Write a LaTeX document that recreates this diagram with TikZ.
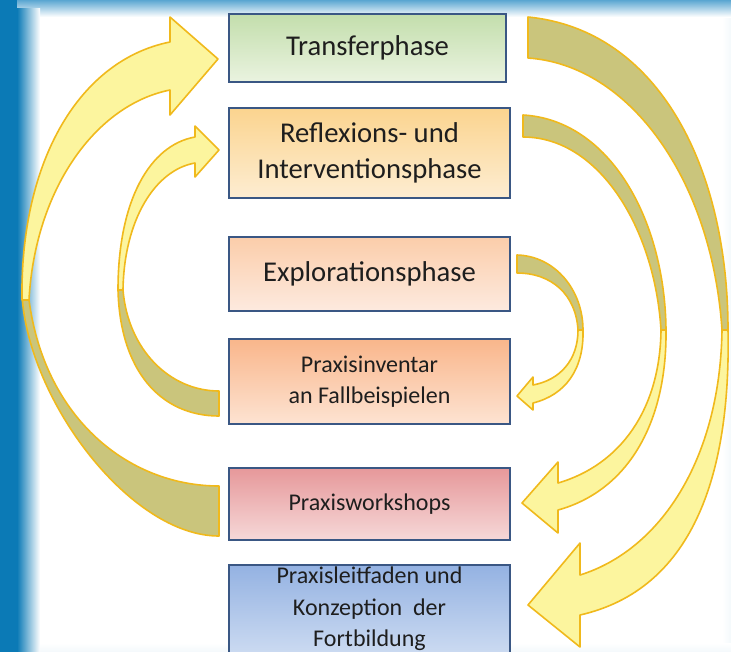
\documentclass[tikz,border=0pt]{standalone}
\usepackage{fontspec}
\setmainfont{Carlito}
\usetikzlibrary{positioning}
\definecolor{frameblue}{HTML}{0B7AB6}
\definecolor{topblue}{HTML}{2A8CC4}
\definecolor{boxline}{HTML}{3A5784}
\definecolor{inktext}{HTML}{1E1E1E}
\definecolor{ribbonfill}{HTML}{FCF59E}
\definecolor{ribbonback}{HTML}{CAC57C}
\definecolor{ribbonrim}{HTML}{F0B91C}
\tikzset{phase/.style={draw=boxline,line width=1.5pt,minimum width=210.75pt,inner sep=1pt,align=center,text=inktext,font=\fontsize{21.5}{27}\selectfont},
small phase/.style={phase,font=\fontsize{18}{23.5}\selectfont},
ribbon front/.style={fill=ribbonfill,draw=ribbonrim,line width=1.2pt,line join=round},
ribbon back/.style={fill=ribbonback,draw=ribbonrim,line width=1.2pt,line join=round},
}

\begin{document}
\begin{tikzpicture}[x=0.75pt,y=-0.75pt]
				\useasboundingbox (0,0) rectangle (731,651);
				\fill[white] (-5,-5) rectangle (736,656);
				\shade[left color=white,right color=frameblue!7] (722,-5) rectangle (736,656);
				\shade[top color=white,bottom color=frameblue!7] (-5,643) rectangle (736,656);
				\shade[top color=topblue,bottom color=white] (-5,-5) rectangle (736,17);
				\fill[frameblue] (-5,-5) rectangle (17,656);
				\shade[left color=frameblue,right color=white] (17,8) rectangle (40,656);
				
				\node[phase,top color={rgb,255:red,195;green,222;blue,172},bottom color={rgb,255:red,234;green,243;blue,224},minimum width=207.75pt,minimum height=51pt,anchor=north west] (trans) at (228,13) {Transferphase};
				\node[phase,top color={rgb,255:red,251;green,212;blue,143},bottom color={rgb,255:red,253;green,237;blue,210},minimum height=67.5pt,below=18pt of trans.south west,anchor=north west] (refl) {Reflexions- und\\Interventionsphase};
				\node[phase,top color={rgb,255:red,251;green,205;blue,170},bottom color={rgb,255:red,253;green,234;blue,223},minimum height=55.5pt,below=27.75pt of refl] (expl) {Explorationsphase};
				\node[small phase,top color={rgb,255:red,249;green,182;blue,139},bottom color={rgb,255:red,253;green,227;blue,210},minimum height=63.75pt,below=19.5pt of expl] (inv) {Praxisinventar\\an Fallbeispielen};
				\node[small phase,top color={rgb,255:red,230;green,152;blue,154},bottom color={rgb,255:red,246;green,216;blue,216},minimum height=54pt,below=31.5pt of inv] (work) {Praxisworkshops};
				\node[small phase,top color={rgb,255:red,148;green,178;blue,226},bottom color={rgb,255:red,203;green,218;blue,241},minimum height=66pt,below=17.25pt of work] (guide) {Praxisleitfaden und\\Konzeption~ der\\Fortbildung};
				
				\draw[ribbon back] (22,295) .. controls (28,400) and (130,536) .. (219,536) -- (219,486) .. controls (130,486) and (45,420) .. (29,300) -- cycle;
				\draw[ribbon front] (22,300) .. controls (20,160) and (80,60) .. (170,42) -- (170,17) -- (218,59) -- (170,115) -- (170,90) .. controls (95,105) and (35,190) .. (29,300) -- cycle;
				\draw[ribbon back] (118,290) .. controls (120,370) and (160,416) .. (219,416) -- (219,391) .. controls (170,391) and (128,350) .. (123,290) -- cycle;
				\draw[ribbon front] (118,290) .. controls (118,200) and (150,145) .. (195,137) -- (195,126) -- (219,150) -- (195,177) -- (195,163) .. controls (155,170) and (124,220) .. (123,290) -- cycle;
				
				\draw[ribbon back] (528,17) .. controls (660,30) and (728,170) .. (728,330) -- (722,330) .. controls (712,180) and (630,65) .. (528,58) -- cycle;
				\draw[ribbon front] (722,330) .. controls (720,460) and (660,550) .. (580,575) -- (580,543) -- (528,605) -- (580,647) -- (580,615) .. controls (690,590) and (731,480) .. (728,330) -- cycle;
				\draw[ribbon back] (523,115) .. controls (610,120) and (665,220) .. (666,330) -- (661,330) .. controls (655,230) and (600,137) .. (523,137) -- cycle;
				\draw[ribbon front] (661,330) .. controls (660,410) and (620,465) .. (558,483) -- (558,462) -- (522,503) -- (558,533) -- (558,510) .. controls (630,490) and (667,420) .. (666,330) -- cycle;
				\draw[ribbon back] (517,255) .. controls (555,256) and (583,290) .. (583,330) -- (578,330) .. controls (576,295) and (552,273) .. (517,273) -- cycle;
				\draw[ribbon front] (578,330) .. controls (578,360) and (560,380) .. (533,385) -- (533,377) -- (517,396) -- (533,410) -- (533,403) .. controls (565,395) and (584,370) .. (583,330) -- cycle;
			\end{tikzpicture}
\end{document}
